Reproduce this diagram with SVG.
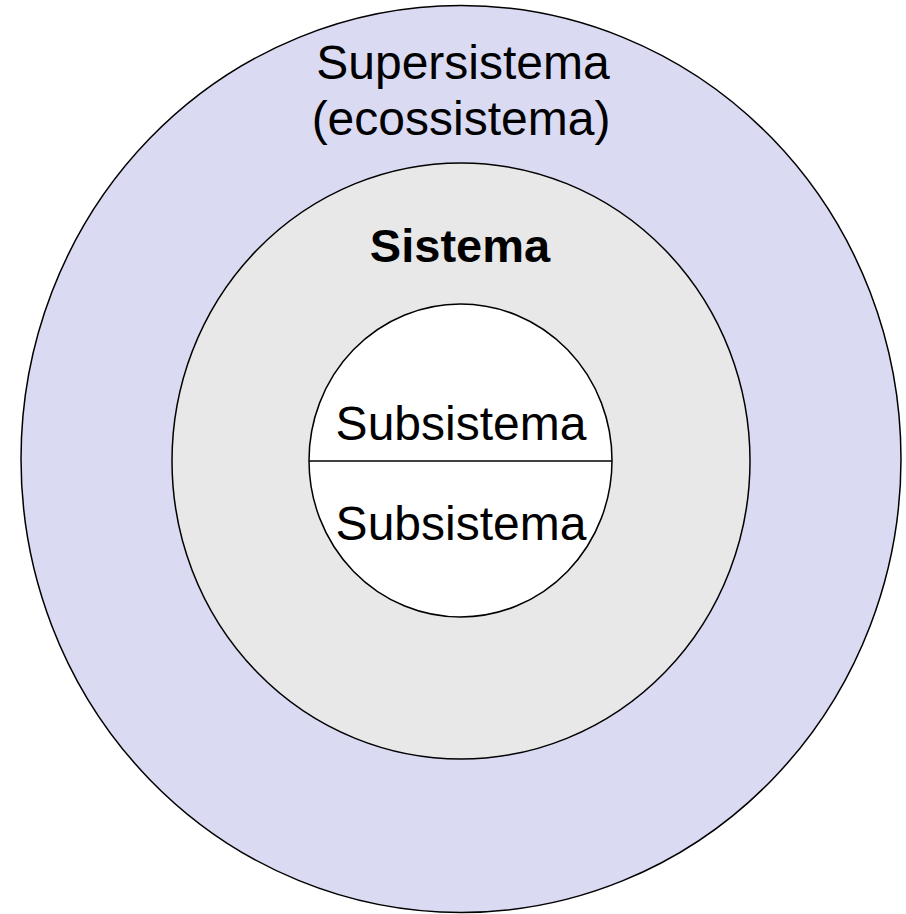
<svg xmlns="http://www.w3.org/2000/svg" width="906" height="914" viewBox="0 0 906 914">
<style>
.shape{stroke:#000;stroke-width:1.5}
.lbl{font-family:"Liberation Sans",Arial,sans-serif;font-size:48px;fill:#000;text-anchor:middle}
.bold{font-weight:bold;font-size:47px}
</style>
<rect width="906" height="914" fill="#fff"/>
<g id="supersistema">
<ellipse class="shape" cx="461" cy="459" rx="440" ry="453.5" fill="#dadaf3"/>
<text class="lbl" x="463" y="79">Supersistema</text>
<text class="lbl" x="461" y="135">(ecossistema)</text>
</g>
<g id="sistema">
<ellipse class="shape" cx="461" cy="461" rx="289" ry="298" fill="#e8e8e8"/>
<text class="lbl bold" x="460" y="262">Sistema</text>
</g>
<g id="subsistemas">
<ellipse class="shape" cx="460.5" cy="460.5" rx="151.5" ry="156.5" fill="#fff"/>
<line class="shape" x1="309" y1="461" x2="612" y2="461"/>
<text id="subsistema1" class="lbl" x="461" y="440">Subsistema</text>
<text id="subsistema2" class="lbl" x="461" y="540">Subsistema</text>
</g>
<g id="connectors"></g>
</svg>
